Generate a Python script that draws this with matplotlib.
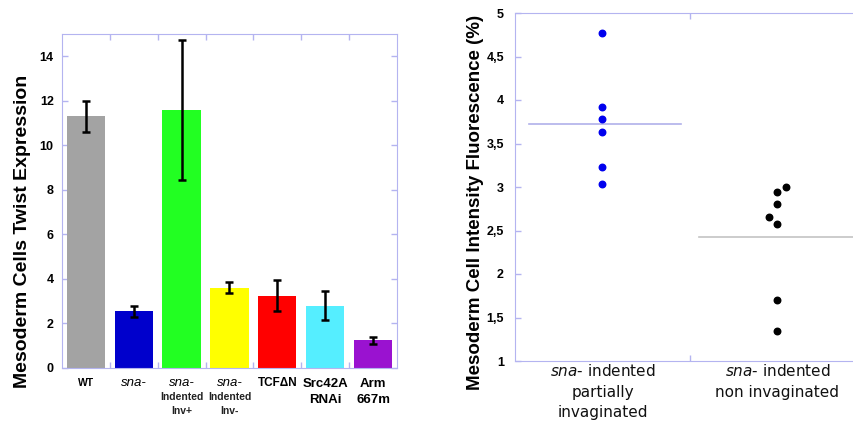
import numpy as np
import matplotlib; matplotlib.use('Agg')
import matplotlib.pyplot as plt
from matplotlib.transforms import blended_transform_factory

# left panel: bars with error bars
bar_vals = [11.3, 2.55, 11.6, 3.6, 3.25, 2.8, 1.25]
bar_lo = [10.6, 2.3, 8.45, 3.35, 2.55, 2.15, 1.1]
bar_hi = [12.0, 2.8, 14.75, 3.85, 3.95, 3.45, 1.4]
bar_cols = ['#a3a3a3', '#0000cc', '#22ff22', '#ffff00', '#ff0000', '#55eeff', '#9a12d0']

# right panel: scatter of two groups
grp_a = [4.77, 3.92, 3.78, 3.63, 3.23, 3.03]
grp_b = [3.0, 2.94, 2.8, 2.65, 2.57, 1.70, 1.35]
grp_b_dx = [0.05, 0, 0, -0.05, 0, 0, 0]

lav = '#b4b4f0'
plt.rcParams['font.family'] = ['Liberation Sans', 'DejaVu Sans']
fig = plt.figure(figsize=(8.54, 4.22), dpi=100)

# ---- left
ax = fig.add_axes([62/854, 1-368/422, 335/854, 334/422])
x = np.arange(len(bar_vals))
ax.bar(x, bar_vals, width=0.8, color=bar_cols, zorder=2)
err = [np.array(bar_vals)-np.array(bar_lo), np.array(bar_hi)-np.array(bar_vals)]
ax.errorbar(x, bar_vals, yerr=err, fmt='none', ecolor='black', elinewidth=1.8,
            capsize=3, capthick=1.8, zorder=3)
ax.set_xlim(-0.5, 6.5); ax.set_ylim(0, 15)
ax.set_yticks(range(0, 15, 2))
ax.set_yticklabels([str(v) for v in range(0, 15, 2)], fontweight='bold', fontsize=9)
ax.set_xticks(np.arange(0.5, 6.5, 1))
ax.set_xticklabels([])
ax.tick_params(axis='both', direction='in', color=lav, length=4, width=1,
               top=True, right=True, pad=6)
for s in ax.spines.values():
    s.set_color(lav)
ax.set_ylabel('Mesoderm Cells Twist Expression', fontsize=14, fontweight='bold')
ax.yaxis.set_label_coords(-0.093, 0.41)
tr = blended_transform_factory(ax.transData, fig.transFigure)
def lbl(i, ypix, s, **kw):
    ax.text(i, 1-ypix/422, s, transform=tr, ha='center', va='center', **kw)
lbl(0, 383, 'WT', fontsize=7.5, fontweight='bold')
lbl(1, 383, 'sna-', fontsize=9.5, style='italic')
for i, tail in [(2, 'Inv+'), (3, 'Inv-')]:
    lbl(i, 383, 'sna-', fontsize=9.5, style='italic')
    lbl(i, 397, 'Indented', fontsize=7.5, fontweight='bold', color='#222222')
    lbl(i, 411, tail, fontsize=7.5, fontweight='bold', color='#222222')
lbl(4, 383, 'TCF\u0394N', fontsize=8.5, fontweight='bold')
lbl(5, 384, 'Src42A', fontsize=9.5, fontweight='bold')
lbl(5, 400, 'RNAi', fontsize=9.5, fontweight='bold')
lbl(6, 384, 'Arm', fontsize=9.5, fontweight='bold')
lbl(6, 400, '667m', fontsize=9.5, fontweight='bold')

# ---- right
ax2 = fig.add_axes([515/854, 1-361/422, 350/854, 348/422])
ax2.scatter(np.zeros(len(grp_a)), grp_a, s=22, color='#0000ee', zorder=3)
ax2.scatter(1 + np.array(grp_b_dx), grp_b, s=22, color='black', zorder=3)
ax2.plot([-0.42, 0.45], [np.mean(grp_a)]*2, color='#b0b0ea', lw=1.2, zorder=2)
ax2.plot([0.55, 1.5], [np.mean(grp_b)]*2, color='#c4c4c4', lw=1.2, zorder=2)
ax2.set_xlim(-0.5, 1.5); ax2.set_ylim(1, 5)
ticks = np.arange(1, 5.01, 0.5)
ax2.set_yticks(ticks)
ax2.set_yticklabels([('%g' % t).replace('.', ',') for t in ticks], fontweight='bold', fontsize=9)
ax2.set_xticks([0.5]); ax2.set_xticklabels([])
ax2.tick_params(axis='both', direction='in', color=lav, length=4, width=1,
                top=True, pad=8)
for s in ax2.spines.values():
    s.set_color(lav)
ax2.spines['right'].set_visible(False)
ax2.set_ylabel('Mesoderm Cell Intensity Fluorescence (%)', fontsize=13.5, fontweight='bold')
ax2.yaxis.set_label_coords(-0.089, 0.457)
tr2 = blended_transform_factory(ax2.transData, fig.transFigure)
for i, lines in [(0, ['indented', 'partially', 'invaginated']), (1, ['indented', 'non invaginated'])]:
    ax2.text(i, 1-371/422, r'$\it{sna}$- ' + lines[0], transform=tr2, ha='center', va='center',
             fontsize=11, family='DejaVu Sans', color='#111111')
    for k, s in enumerate(lines[1:]):
        ax2.text(i, 1-(392+20.5*k)/422, s, transform=tr2, ha='center', va='center',
                 fontsize=11, family='DejaVu Sans', color='#111111')

plt.savefig('out.png', dpi=100)
